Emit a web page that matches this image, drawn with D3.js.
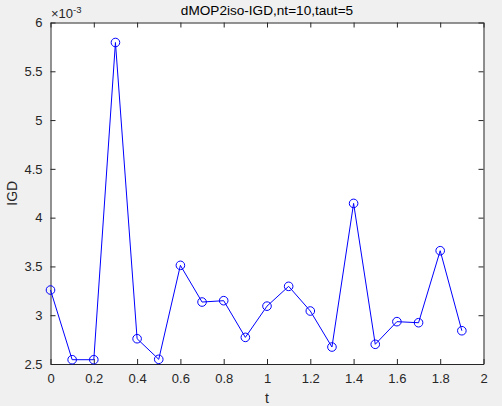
<!DOCTYPE html>
<html><head><meta charset="utf-8">
<script src="https://cdn.jsdelivr.net/npm/d3@7"></script>
<style>body{margin:0;background:#f0f0f0;}svg{display:block;font-family:"Liberation Sans",Arial,Helvetica,sans-serif;}</style>
</head><body>
<script>
const tValues = [0,0.1,0.2,0.3,0.4,0.5,0.6,0.7,0.8,0.9,1.0,1.1,1.2,1.3,1.4,1.5,1.6,1.7,1.8,1.9];
const igdValues = [3.258,2.544,2.544,5.795,2.759,2.548,3.511,3.135,3.149,2.773,3.093,3.296,3.043,2.674,4.146,2.702,2.934,2.923,3.661,2.841];
const xTicks = [0,0.2,0.4,0.6,0.8,1,1.2,1.4,1.6,1.8,2];
const yTicks = [2.5,3,3.5,4,4.5,5,5.5,6];
const titleText = "dMOP2iso-IGD,nt=10,taut=5";

const W=502,H=406;
const m={l:50.5,r:18.5,t:22.5,b:42};
const svg=d3.select("body").append("svg").attr("width",W).attr("height",H);
svg.append("rect").attr("width",W).attr("height",H).attr("fill","#f0f0f0");
const x=d3.scaleLinear().domain([0,2]).range([m.l,W-m.r]);
const y=d3.scaleLinear().domain([2.5,6]).range([H-m.b,m.t]);
svg.append("rect").attr("x",m.l).attr("y",m.t).attr("width",W-m.r-m.l).attr("height",H-m.b-m.t).attr("fill","#fff");

const fmt=d=>String(d);
const axCol="#262626";
function style(g){g.select(".domain").attr("stroke",axCol);g.selectAll(".tick line").attr("stroke",axCol);g.selectAll("text").attr("fill",axCol).attr("font-size",13).attr("font-family","inherit");}
svg.append("g").attr("transform",`translate(0,${H-m.b})`).call(d3.axisBottom(x).tickValues(xTicks).tickFormat(fmt).tickSizeInner(-5).tickSizeOuter(0).tickPadding(9.5)).call(style);
svg.append("g").attr("transform",`translate(0,${m.t})`).call(d3.axisTop(x).tickValues(xTicks).tickFormat("").tickSizeInner(-5).tickSizeOuter(0)).call(style);
svg.append("g").attr("transform",`translate(${m.l},0)`).call(d3.axisLeft(y).tickValues(yTicks).tickFormat(fmt).tickSizeInner(-5).tickSizeOuter(0).tickPadding(8)).call(style);
svg.append("g").attr("transform",`translate(${W-m.r},0)`).call(d3.axisRight(y).tickValues(yTicks).tickFormat("").tickSizeInner(-5).tickSizeOuter(0)).call(style);

const data=tValues.map((t,i)=>({t,v:igdValues[i]}));
svg.append("path").datum(data).attr("fill","none").attr("stroke","#0000ff").attr("stroke-width",1)
 .attr("d",d3.line().x(d=>x(d.t)).y(d=>y(d.v)));
svg.selectAll("circle.pt").data(data).join("circle").attr("class","pt")
 .attr("cx",d=>x(d.t)).attr("cy",d=>y(d.v)).attr("r",4.3).attr("fill","none").attr("stroke","#0000ff").attr("stroke-width",1);

svg.append("text").attr("x",(m.l+W-m.r)/2).attr("y",15).attr("text-anchor","middle").attr("font-size",13.6).attr("fill","#000").text(titleText);
svg.append("text").attr("x",(m.l+W-m.r)/2).attr("y",403).attr("text-anchor","middle").attr("font-size",14).attr("fill",axCol).text("t");
svg.append("text").attr("transform",`translate(17,${(m.t+H-m.b)/2}) rotate(-90)`).attr("text-anchor","middle").attr("font-size",14).attr("fill",axCol).text("IGD");
const ex=svg.append("text").attr("x",51).attr("y",18).attr("font-size",13).attr("fill",axCol);
ex.append("tspan").text("\u00d710");
ex.append("tspan").attr("dy",-5).attr("font-size",9.5).text("-3");
</script>
</body></html>
